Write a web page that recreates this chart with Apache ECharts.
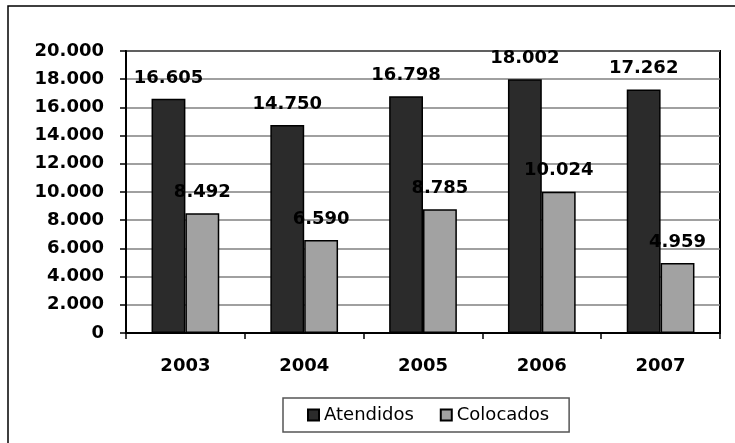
<!DOCTYPE html>
<html>
<head>
<meta charset="utf-8">
<script src="https://cdn.jsdelivr.net/npm/echarts@6/dist/echarts.min.js"></script>
<style>
html,body{margin:0;padding:0;background:#fff;}
#chart{width:735px;height:443px;}
</style>
</head>
<body>
<div id="chart"></div>
<script>
const categories = ['2003', '2004', '2005', '2006', '2007'];
const atendidos = [16605, 14750, 16798, 18002, 17262];
const colocados = [8492, 6590, 8785, 10024, 4959];
const seriesNames = ['Atendidos', 'Colocados'];
const yMin = 0, yMax = 20000, yStep = 2000;

function fmt(v) {
  return String(Math.round(v)).replace(/\B(?=(\d{3})+(?!\d))/g, '.');
}

const FONT = 'DejaVu Sans';
const chart = echarts.init(document.getElementById('chart'), null, {renderer: 'canvas'});

const labelStyle = {
  show: true,
  position: 'top',
  distance: 12,
  color: '#000',
  fontFamily: FONT,
  fontWeight: 'bold',
  fontSize: 18,
  formatter: p => fmt(p.value)
};

chart.setOption({
  animation: false,
  backgroundColor: '#fff',
  graphic: [{
    type: 'rect',
    shape: {x: 8, y: 6, width: 740, height: 460},
    style: {fill: 'none', stroke: '#000', lineWidth: 1.5},
    silent: true
  }],
  grid: {
    left: 126, right: 15, top: 51, bottom: 110,
    show: true, borderColor: '#000', borderWidth: 2, backgroundColor: 'transparent'
  },
  legend: {
    data: seriesNames,
    left: 283, top: 398,
    padding: [8, 20, 8, 24],
    borderColor: '#555', borderWidth: 1.5,
    icon: 'rect',
    itemWidth: 11, itemHeight: 11,
    itemGap: 26,
    textStyle: {fontFamily: FONT, fontSize: 18, color: '#000'}
  },
  xAxis: {
    type: 'category',
    data: categories,
    axisLine: {lineStyle: {color: '#000', width: 2}},
    axisTick: {show: true, length: 6, lineStyle: {color: '#000', width: 1.5}},
    axisLabel: {margin: 24, color: '#000', fontFamily: FONT, fontWeight: 'bold', fontSize: 18}
  },
  yAxis: {
    type: 'value',
    min: yMin, max: yMax, interval: yStep,
    axisLine: {show: true, lineStyle: {color: '#000', width: 2}},
    axisTick: {show: true, length: 6, lineStyle: {color: '#000', width: 1.5}},
    splitLine: {show: true, lineStyle: {color: '#808080', width: 1.5}},
    axisLabel: {margin: 22, color: '#000', fontFamily: FONT, fontWeight: 'bold', fontSize: 18, formatter: v => fmt(v)}
  },
  series: [{
    name: seriesNames[0],
    type: 'bar',
    data: atendidos,
    barGap: '0%',
    barCategoryGap: '43%',
    itemStyle: {color: '#2b2b2b', borderColor: '#000', borderWidth: 1.5},
    label: labelStyle
  }, {
    name: seriesNames[1],
    type: 'bar',
    data: colocados,
    barGap: '0%',
    barCategoryGap: '43%',
    itemStyle: {color: '#a2a2a2', borderColor: '#000', borderWidth: 1.5},
    label: labelStyle
  }]
});
</script>
</body>
</html>
